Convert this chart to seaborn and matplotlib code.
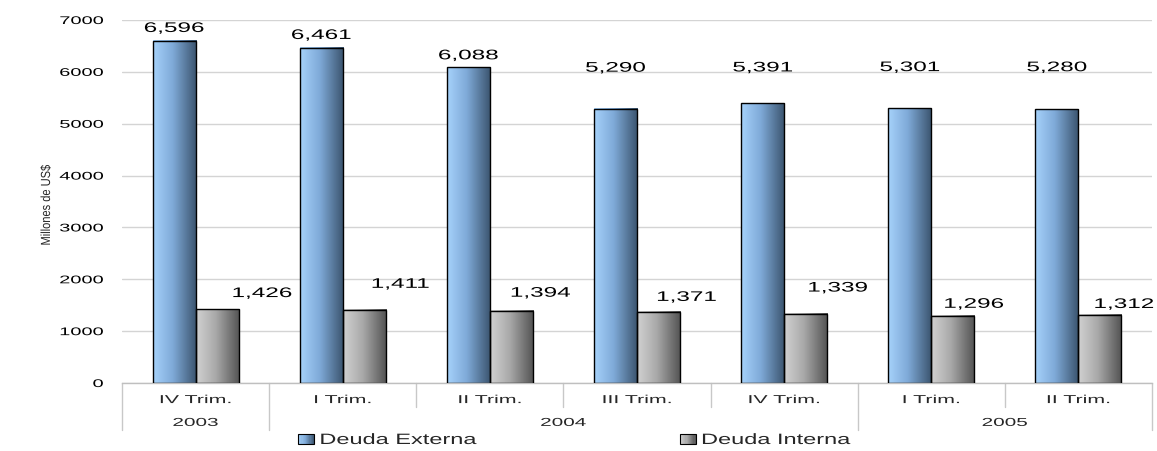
import numpy as np
import pandas as pd
import matplotlib
matplotlib.use("Agg")
import matplotlib.pyplot as plt
import seaborn as sns
from matplotlib.patheffects import AbstractPathEffect
from matplotlib.transforms import Affine2D, blended_transform_factory
from matplotlib.colors import LinearSegmentedColormap
from matplotlib.legend_handler import HandlerBase
from matplotlib.patches import Rectangle

# ---- data -------------------------------------------------------------
quarters = ["IV Trim.", "I Trim.", "II Trim.", "III Trim.", "IV Trim.", "I Trim.", "II Trim."]
years = ["2003", "2004", "2004", "2004", "2004", "2005", "2005"]
deuda_externa = [6596, 6461, 6088, 5290, 5391, 5301, 5280]
deuda_interna = [1426, 1411, 1394, 1371, 1339, 1296, 1312]
series_names = ["Deuda Externa", "Deuda Interna"]
y_ticks = [0, 1000, 2000, 3000, 4000, 5000, 6000, 7000]
y_label = "Millones de US$"

# value-label placement (pixels, relative to the top centre of each bar)
ext_label_dy = [13, 13, 12, 41, 36, 41, 42]
int_label_dx = [45, 36, 29, 28, 32, 21, 24]
int_label_dy = [16, 26, 18, 15, 26, 12, 11]

# ---- styling helpers ---------------------------------------------------
class Stretch(AbstractPathEffect):
    """Draw text glyphs widened (or narrowed) along the text direction."""

    def __init__(self, sx=1.8, sy=1.0, anchor="center"):
        super().__init__()
        self.sx, self.sy, self.anchor = sx, sy, anchor

    def draw_path(self, renderer, gc, tpath, affine, rgbFace=None):
        ext = tpath.get_extents()
        if self.anchor == "right":
            x0 = ext.x1
        elif self.anchor == "left":
            x0 = ext.x0
        else:
            x0 = 0.5 * (ext.x0 + ext.x1)
        pre = Affine2D().translate(-x0, 0).scale(self.sx, self.sy).translate(x0, 0)
        renderer.draw_path(gc, tpath, pre + affine, rgbFace)


blue_cmap = LinearSegmentedColormap.from_list(
    "blue_grad", [(0.0, "#A6D2FB"), (0.45, "#7FAAD8"), (1.0, "#3A536D")])
gray_cmap = LinearSegmentedColormap.from_list(
    "gray_grad", [(0.0, "#D2D2D2"), (0.45, "#A9A9A9"), (1.0, "#525252")])
cmaps = [blue_cmap, gray_cmap]


class GradientHandler(HandlerBase):
    def __init__(self, cmap):
        super().__init__()
        self.cmap = cmap

    def create_artists(self, legend, orig_handle, xdescent, ydescent,
                       width, height, fontsize, trans):
        n = 14
        arts = []
        for i in range(n):
            arts.append(Rectangle((-xdescent + width * i / n, -ydescent), width / n, height,
                                  facecolor=self.cmap((i + 0.5) / n), edgecolor="none",
                                  transform=trans))
        arts.append(Rectangle((-xdescent, -ydescent), width, height, facecolor="none",
                              edgecolor="black", lw=0.8, transform=trans))
        return arts


sns.set_style("white")
plt.rcParams["font.family"] = ["Liberation Sans", "DejaVu Sans"]

W, H = 1157, 451
fig = plt.figure(figsize=(W / 100, H / 100), dpi=100)
ax = fig.add_axes([122 / W, (H - 383) / H, (1152 - 122) / W, (383 - 20) / H])

keys = [f"{q} {y}" for q, y in zip(quarters, years)]
df = pd.DataFrame({
    "periodo": keys * 2,
    "serie": [series_names[0]] * len(keys) + [series_names[1]] * len(keys),
    "valor": deuda_externa + deuda_interna,
})

sns.barplot(data=df, x="periodo", y="valor", hue="serie", order=keys,
            hue_order=series_names, palette=["#7FAAD8", "#A9A9A9"],
            width=0.585, gap=0, saturation=1, legend=False, ax=ax,
            edgecolor="black", linewidth=1)

# gradient fill for each bar
for cont, cmap in zip(ax.containers, cmaps):
    for bar in cont:
        x0, w, h = bar.get_x(), bar.get_width(), bar.get_height()
        grad = np.linspace(0, 1, 256).reshape(1, -1)
        ax.imshow(grad, cmap=cmap, extent=[x0, x0 + w, 0, h], aspect="auto",
                  interpolation="bilinear", zorder=2)
        bar.set_facecolor("none")
        bar.set_zorder(3)

ax.set_xlim(-0.5, len(keys) - 0.5)
ax.set_ylim(0, 7000)
ax.set_axisbelow(True)
ax.yaxis.grid(True, color="#D4D4D4", lw=1)
ax.xaxis.grid(False)
for side in ["top", "right", "left"]:
    ax.spines[side].set_visible(False)
ax.spines["bottom"].set_color("#BFBFBF")
ax.spines["bottom"].set_linewidth(1)

ax.set_xticks([])
ax.set_xlabel("")
ax.set_ylabel("")
ax.set_yticks(y_ticks, labels=[str(t) for t in y_ticks])
ax.tick_params(axis="y", length=6.5, width=1, color="#C8C8C8", pad=7,
               labelsize=8, labelcolor="black")
for tk in ax.yaxis.get_major_ticks():
    tk.label1.set_path_effects([Stretch(1.8, anchor="right")])

# value labels
for i, bar in enumerate(ax.containers[0]):
    cx = bar.get_x() + bar.get_width() / 2
    ax.annotate(f"{deuda_externa[i]:,}", (cx, deuda_externa[i]),
                xytext=(0, ext_label_dy[i]), textcoords="offset pixels",
                ha="center", va="center", fontsize=10, color="black",
                path_effects=[Stretch(1.75)])
for i, bar in enumerate(ax.containers[1]):
    cx = bar.get_x() + bar.get_width() / 2
    ax.annotate(f"{deuda_interna[i]:,}", (cx, deuda_interna[i]),
                xytext=(int_label_dx[i], int_label_dy[i]), textcoords="offset pixels",
                ha="center", va="center", fontsize=10, color="black",
                path_effects=[Stretch(1.75)])

# two-level category axis
tr = blended_transform_factory(ax.transData, ax.transAxes)
sep_color = "#C8C8C8"
year_bounds = [-0.5] + [i - 0.5 for i in range(1, len(years)) if years[i] != years[i - 1]] + [len(years) - 0.5]
for i in range(len(keys) + 1):
    xb = i - 0.5
    low = -0.129 if xb in year_bounds else -0.065
    ax.plot([xb, xb], [0, low], color=sep_color, lw=1, transform=tr, clip_on=False)

for i, q in enumerate(quarters):
    ax.text(i, -0.047, q, transform=tr, ha="center", va="center", fontsize=8.3,
            path_effects=[Stretch(1.85)])

start = 0
for i in range(1, len(years) + 1):
    if i == len(years) or years[i] != years[start]:
        ax.text((start + i - 1) / 2, -0.110, years[start], transform=tr, ha="center",
                va="center", fontsize=8.3, path_effects=[Stretch(1.8)])
        start = i

# axis title (condensed)
fig.text(47 / W, 1 - 205 / H, y_label, rotation=90, ha="center", va="center",
         fontsize=9.5, path_effects=[Stretch(0.84, 1.0)])

# legend
handles = [Rectangle((0, 0), 1, 1) for _ in series_names]
leg = fig.legend(handles, series_names, loc="center left",
                 bbox_to_anchor=(298 / W, 11 / H), ncol=2, frameon=False,
                 fontsize=10.8, handlelength=1.07, handleheight=0.65,
                 handletextpad=0.4, columnspacing=17.3, borderpad=0,
                 borderaxespad=0,
                 handler_map={h: GradientHandler(c) for h, c in zip(handles, cmaps)})
for t in leg.get_texts():
    t.set_path_effects([Stretch(1.57, anchor="left")])

fig.savefig("out.png", dpi=100)
